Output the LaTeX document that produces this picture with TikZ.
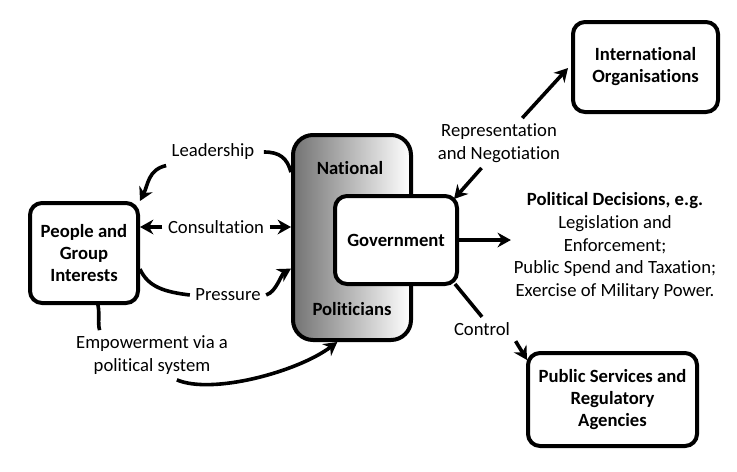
\documentclass[tikz,border=0pt]{standalone}
\usepackage{fontspec}
\setmainfont{Carlito}[RawFeature={-liga;-clig;-calt}]
\usetikzlibrary{arrows.meta,positioning,calc}
\definecolor{shadeGray}{RGB}{115,115,115}

\begin{document}
\begin{tikzpicture}[
  x=0.75pt,y=-0.75pt,
  >={Stealth[length=10pt,width=11pt]},
  font=\fontsize{14}{17}\selectfont,
  box/.style={draw=black,line width=3pt,rounded corners=9pt,fill=white,font=\fontsize{14}{16.5}\selectfont\bfseries,align=center},
  lab/.style={font=\fontsize{14}{17}\selectfont,align=center,inner sep=4pt},
  link/.style={line width=2.7pt}
]
  \useasboundingbox (0,0) rectangle (737,471);

  % Boxes
  \node[box,minimum width=81pt,minimum height=75pt] (people) at (84,253) {People and\\Group\\Interests};
  \node[box,rounded corners=15pt,left color=shadeGray,right color=white,minimum width=88.5pt,minimum height=153.75pt] (natpol) at (352,237.5) {};
  \node[font=\fontsize{14}{17}\selectfont\bfseries] (natlab) at (350,168) {National};
  \node[font=\fontsize{14}{17}\selectfont\bfseries] (pollab) at (352,309) {Politicians};
  \node[box,minimum width=91.5pt,minimum height=66pt] (gov) at (396,240) {Government};
  \node[box,minimum width=108.75pt,minimum height=67.5pt] (intl) at (645.5,67) {International\\Organisations};
  \node[box,minimum width=126.75pt,minimum height=69.75pt] (public) at (612.5,399.5) {Public Services and\\Regulatory\\Agencies};

  % Labels
  \node[lab] (lead) at (213,152) {Leadership};
  \node[lab] (consult) at (216,227) {Consultation};
  \node[lab] (press) at (228,295) {Pressure};
  \node[lab] (empower) at (152,355) {Empowerment via a\\political system};
  \node[lab] (repr) at (499,143) {Representation\\and Negotiation};
  \node[lab] (control) at (482,329) {Control};
  \node[lab,inner sep=2pt] (decisions) at (615,246) {\textbf{Political Decisions, e.g.}\\Legislation and\\Enforcement;\\Public Spend and Taxation;\\Exercise of Military Power.};

  % Left side
  \draw[link] ($(lead.east)+(4,0)$) .. controls +(16,0) and +(-4,-14) .. (natpol.133);
  \draw[link,->] (lead.south west) .. controls +(-18,4) and +(8,-16) .. (people.north east);
  \draw[link,->] (consult.west) -- (consult.west -| people.east);
  \draw[link,->] (consult.east) -- (consult.east -| natpol.west);
  \draw[link] (people.-16) .. controls +(8,18) and +(-25,-3) .. (press.west);
  \draw[link,->] (press.east) .. controls +(10,-3) and +(-10,6) .. (natpol.207);
  \draw[link] (people.-75) .. controls +(2,10) and +(-2,-8) .. ($(empower.north west)+(29,0)$);
  \draw[link,->] (empower.-45) .. controls +(35,15) and +(-40,30) .. (natpol.262);

  % Right side
  \draw[link,->] (gov.east) -- (gov.east -| decisions.west);
  \draw[link,->] (repr.235) -- ($(gov.north east)+(-5,5)$);
  \draw[link,->] (repr.47) -- ($(intl.west)+(-3,1)$);
  \draw[link] ($(gov.south east)+(-4,-2)$) -- (control.north);
  \draw[link,->] (control.south east) -- ($(public.north west)+(1,9)$);
\end{tikzpicture}
\end{document}
